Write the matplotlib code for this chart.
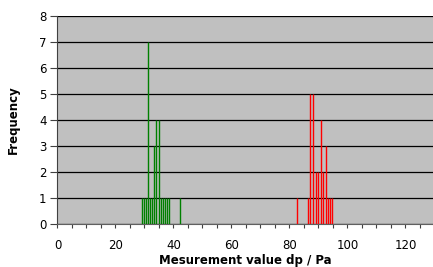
import matplotlib
matplotlib.use("Agg")
import matplotlib.pyplot as plt
from matplotlib.ticker import MultipleLocator

plt.rcParams['font.family'] = ['DejaVu Sans']

# green measurement series (value, count)
green_x = [29.1, 29.8, 30.4, 31.1, 31.8, 32.5, 33.2, 34.1, 35.0, 35.6, 36.3, 37.0, 37.7, 38.4, 42.2]
green_n = [1, 1, 1, 7, 1, 1, 3, 4, 4, 1, 1, 1, 1, 1, 1]

# red measurement series (value, count)
red_x = [82.5, 86.3, 87.2, 88.2, 89.2, 89.9, 90.8, 91.6, 92.5, 93.3, 94.0, 94.7]
red_n = [1, 1, 5, 5, 2, 2, 4, 2, 3, 1, 1, 1]

x_ticks = [0, 20, 40, 60, 80, 100, 120]
y_ticks = [0, 1, 2, 3, 4, 5, 6, 7, 8]

fig = plt.figure(figsize=(4.33, 2.67), dpi=100)
ax = fig.add_axes([57.5 / 433, 43 / 267, 1 - 57.5 / 433, 208.3 / 267])
ax.set_facecolor('#c0c0c0')

# histogram columns drawn as thin vertical bars
ax.vlines(green_x, 0, green_n, colors='#008000', linewidth=1.0, capstyle='butt', zorder=3)
ax.vlines(red_x, 0, red_n, colors='#ff0000', linewidth=1.0, capstyle='butt', zorder=3)

ax.set_xlim(0, 129.5)
ax.set_ylim(0, 8)
ax.set_xticks(x_ticks)
ax.xaxis.set_minor_locator(MultipleLocator(5))
ax.set_yticks(y_ticks)

ax.yaxis.grid(True, color='black', linewidth=0.9)
ax.set_axisbelow(True)

for s in ['top', 'right']:
    ax.spines[s].set_visible(False)
ax.spines['left'].set_color('#404040')
ax.spines['bottom'].set_color('#606060')

ax.tick_params(axis='y', length=5, width=0.8, color='#404040', labelsize=8.5, pad=3)
ax.tick_params(axis='x', which='both', length=3, width=0.8, color='#404040', labelsize=8.5, pad=8)

ax.set_xlabel('Mesurement value dp / Pa', fontsize=8.5, fontweight='bold', labelpad=1)
ax.set_ylabel('Frequency', fontsize=8.5, fontweight='bold', labelpad=14)

fig.savefig('out.png', dpi=100)
